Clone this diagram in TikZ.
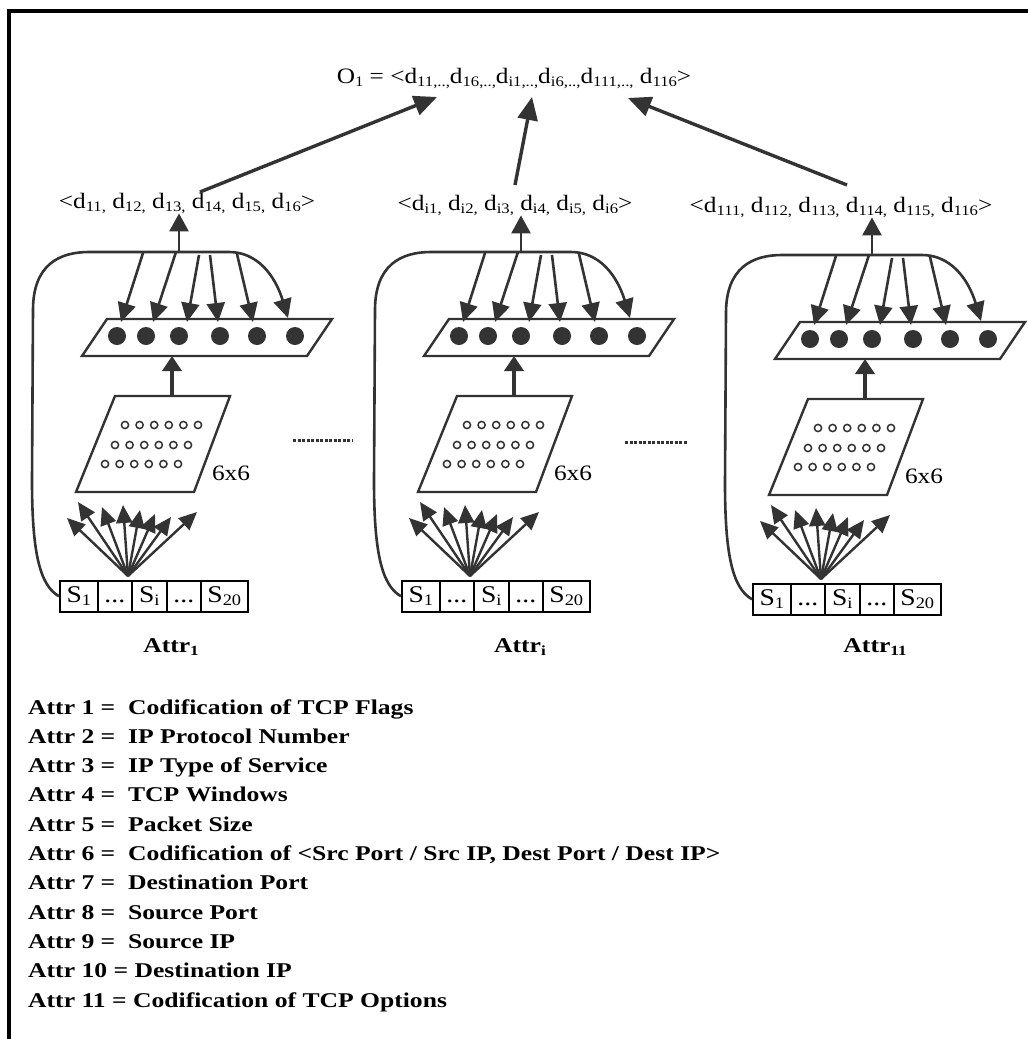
\documentclass[tikz,border=0pt]{standalone}
\usepackage{fontspec}
\setmainfont{Liberation Serif}[FakeStretch=1.15]
\newfontfamily\legfont{Liberation Serif}[FakeStretch=1.22]
\usetikzlibrary{arrows.meta}
\definecolor{lc}{HTML}{333333}
\newcommand{\sbs}[1]{\raisebox{-3pt}{\fontsize{14.5}{16}\selectfont #1}}
\newcommand{\sbc}[1]{\raisebox{-3pt}{\fontsize{16}{18}\selectfont #1}}
\newcommand{\sbb}[1]{\raisebox{-3pt}{\fontsize{14}{16}\selectfont #1}}
\tikzset{
  lnk/.style={draw=lc, line width=2.6pt, -{Triangle[length=19pt,width=18pt]}},
  fan/.style={draw=lc, line width=2.4pt, -{Triangle[length=18pt,width=16pt]}},
  thickup/.style={draw=lc, line width=4pt, -{Triangle[length=15pt,width=19pt]}},
  big/.style={draw=lc, line width=3.4pt, -{Triangle[length=23pt,width=20pt]}},
  lblup/.style={draw=lc, line width=2.6pt, -{Triangle[length=18pt,width=19pt]}},
  cell/.style={draw=black, line width=1.6pt, minimum height=31pt, inner sep=0pt,
    text height=17pt, text depth=4pt,
    anchor=north west, font=\fontsize{24}{26}\selectfont},
  dtxt/.style={font=\fontsize{22}{26}\selectfont, inner sep=0pt, anchor=base},
  leg/.style={font=\legfont\bfseries\fontsize{21}{25}\selectfont, inner sep=0pt, anchor=base west},
  shapeln/.style={draw=lc, line width=2.4pt, line join=miter},
  dotsep/.style={draw=lc, line width=3pt, dash pattern=on 3pt off 1.5pt},
}
\newcommand{\attrcol}[3]{%
\begin{scope}[shift={(#1,#2)}]
  \node[cell, minimum width=38pt] (#3c1) at (0,0) {S\sbc{1}};
  \node[cell, minimum width=34pt] (#3c2) at (38,0) {...};
  \node[cell, minimum width=35pt] (#3c3) at (72,0) {S\sbc{i}};
  \node[cell, minimum width=34pt] (#3c4) at (107,0) {...};
  \node[cell, minimum width=47pt] (#3c5) at (141,0) {S\sbc{20}};
  \coordinate (#3fo) at (69,-4);
  \foreach \k/\fx/\fy in {1/8/-62,2/19/-78,3/43/-73,4/64/-75,5/81/-70,6/96/-66,7/112/-63,8/138/-68}{
    \coordinate (#3f\k) at (\fx,\fy);
    \draw[fan] (#3fo) -- (#3f\k);
  }
  \coordinate (#3mtl) at (56,-184);
  \coordinate (#3mtr) at (171,-184);
  \coordinate (#3mbr) at (135,-88);
  \coordinate (#3mbl) at (17,-88);
  \draw[shapeln] (#3mtl) -- (#3mtr) -- (#3mbr) -- (#3mbl) -- cycle;
  \foreach \yy/\xx in {-155/66, -135/56, -116/46}{
    \foreach \j in {0,...,5}{
      \draw[lc, line width=1.5pt] (\xx+14.6*\j, \yy) circle (3.6pt);
    }
  }
  \node[dtxt, anchor=center] (#3six) at (172,-107) {6x6};
  \coordinate (#3btl) at (48,-261);
  \coordinate (#3btr) at (273,-261);
  \coordinate (#3bbr) at (248,-224);
  \coordinate (#3bbl) at (23,-224);
  \draw[shapeln] (#3btl) -- (#3btr) -- (#3bbr) -- (#3bbl) -- cycle;
  \foreach \xx in {58,87,120,161,198,236}{ \fill[lc] (\xx,-244) circle (9pt); }
  \coordinate (#3mup) at (113,-185);
  \coordinate (#3bdn) at (113,-224);
  \draw[thickup] (#3mup) -- (#3bdn);
  \draw[lnk] (#3c1.west) .. controls (-20,5) and (-27,-30) .. (-27,-100)
     -- (-26,-270) .. controls (-26,-315) and (0,-328) .. (30,-328)
     -- (170,-328) .. controls (198,-328) and (216,-305) .. (229,-262);
  \coordinate (#3ctop) at (120,-328);
  \foreach \sx/\sy/\tx in {84/-327/62, 117/-328/94, 140/-325/128, 151/-325/159, 178/-326/194}{
    \coordinate (#3s) at (\sx,\sy);
    \coordinate (#3t) at (\tx,-258);
    \draw[lnk] (#3s) -- (#3t);
  }
\end{scope}}

\begin{document}
\begin{tikzpicture}[x=1pt,y=-1pt]
\useasboundingbox (0,0) rectangle (1028,1039);
\fill[white] (0,0) rectangle (1028,1039);
\draw[black, line width=4pt, line join=miter] (9.3,1045) -- (9.3,11.3) -- (1035,11.3);

\node[dtxt] (top) at (514,83) {O\sbs{1} = <d\sbs{11,..,}d\sbs{16,..,}d\sbs{i1,..,}d\sbs{i6,..,}d\sbs{111,..,} d\sbs{116}>};

\node[dtxt] (lab1) at (187,208) {<d\sbs{11,} d\sbs{12,} d\sbs{13,} d\sbs{14,} d\sbs{15,} d\sbs{16}>};
\node[dtxt] (lab2) at (515,210) {<d\sbs{i1,} d\sbs{i2,} d\sbs{i3,} d\sbs{i4,} d\sbs{i5,} d\sbs{i6}>};
\node[dtxt] (lab3) at (841,212) {<d\sbs{111,} d\sbs{112,} d\sbs{113,} d\sbs{114,} d\sbs{115,} d\sbs{116}>};

\attrcol{59}{580}{a}
\attrcol{401}{580}{b}
\attrcol{752}{583}{c}

\draw[lblup] (actop) -- (actop |- lab1.south);
\draw[lblup] (bctop) -- (bctop |- lab2.south);
\draw[lblup] (cctop) -- (cctop |- lab3.south);

\coordinate (a1s) at (200,192); \coordinate (a1t) at (437,97);
\coordinate (a2s) at (515,185); \coordinate (a2t) at (532,97);
\coordinate (a3s) at (847,185); \coordinate (a3t) at (628,98);
\draw[big] (a1s) -- (a1t);
\draw[big] (a2s) -- (a2t);
\draw[big] (a3s) -- (a3t);

\draw[dotsep] (293,440) -- (352,440);
\draw[dotsep] (625,442) -- (688,442);

\node[leg, anchor=base] (at1) at (171,652) {Attr\sbb{1}};
\node[leg, anchor=base] (at2) at (520,652) {Attr\sbb{i}};
\node[leg, anchor=base] (at3) at (875,652) {Attr\sbb{11}};

\node[leg] (l1) at (28,714.0) {Attr 1 =\ \ Codification of TCP Flags};
\node[leg] (l2) at (28,743.3) {Attr 2 =\ \ IP Protocol Number};
\node[leg] (l3) at (28,772.6) {Attr 3 =\ \ IP Type of Service};
\node[leg] (l4) at (28,801.9) {Attr 4 =\ \ TCP Windows};
\node[leg] (l5) at (28,831.2) {Attr 5 =\ \ Packet Size};
\node[leg] (l6) at (28,860.5) {Attr 6 =\ \ Codification of <Src Port / Src IP, Dest Port / Dest IP>};
\node[leg] (l7) at (28,889.8) {Attr 7 =\ \ Destination Port};
\node[leg] (l8) at (28,919.1) {Attr 8 =\ \ Source Port};
\node[leg] (l9) at (28,948.4) {Attr 9 =\ \ Source IP};
\node[leg] (l10) at (28,977.7) {Attr 10 = Destination IP};
\node[leg] (l11) at (28,1007.0) {Attr 11 = Codification of TCP Options};
\end{tikzpicture}
\end{document}
